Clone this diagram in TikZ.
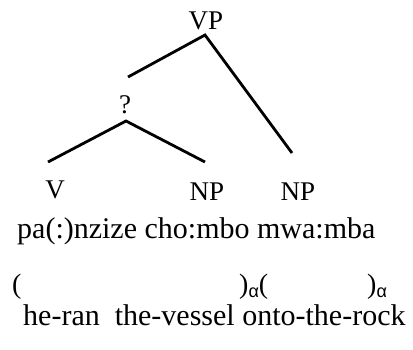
\documentclass[tikz,border=0pt]{standalone}
\usepackage{fontspec}
\setmainfont{Liberation Serif}
\newfontfamily\alphafont{Liberation Sans}

\begin{document}
\begin{tikzpicture}[x=1pt,y=-1pt]
    \tikzset{cat/.style={inner sep=0pt, anchor=base, font=\fontsize{27}{30}\selectfont},
             txt/.style={inner sep=0pt, anchor=base west, font=\fontsize{30}{34}\selectfont},
             brk/.style={inner sep=0pt, anchor=base west, font=\fontsize{28}{32}\selectfont},
             branch/.style={black, line width=2.8pt}}
    \useasboundingbox (0,0) rectangle (413,349);
    % tree labels
    \node [cat] (vp) at (206,29) {VP};
    \node [cat] (q) at (125,113) {?};
    \node [cat] (v) at (55,198) {V};
    \node [cat] (np1) at (207,200) {NP};
    \node [cat] (np2) at (298,200) {NP};
    % branch ends
    \coordinate (vptop) at (205,35);
    \coordinate (vpleft) at (128,77);
    \coordinate (vpright) at (292,153);
    \coordinate (qtop) at (126,121);
    \coordinate (qleft) at (48,162);
    \coordinate (qright) at (205,162);
    \draw [branch] (vpleft) -- (vptop) -- (vpright);
    \draw [branch] (qleft) -- (qtop) -- (qright);
    % words, brackets and gloss
    \node [txt] (words) at (17,238) {pa(:)nzize cho:mbo mwa:mba};
    \node [brk] (lb) at (12,293) {(};
    \node [brk] (mid) at (239,293) {)\raisebox{-0.15em}{\alphafont\fontsize{18}{18}\selectfont α}(};
    \node [brk] (rb) at (367,293) {)\raisebox{-0.15em}{\alphafont\fontsize{18}{18}\selectfont α}};
    \node [txt] (gloss) at (23,325) {he-ran\ \ the-vessel onto-the-rock};
\end{tikzpicture}
\end{document}
